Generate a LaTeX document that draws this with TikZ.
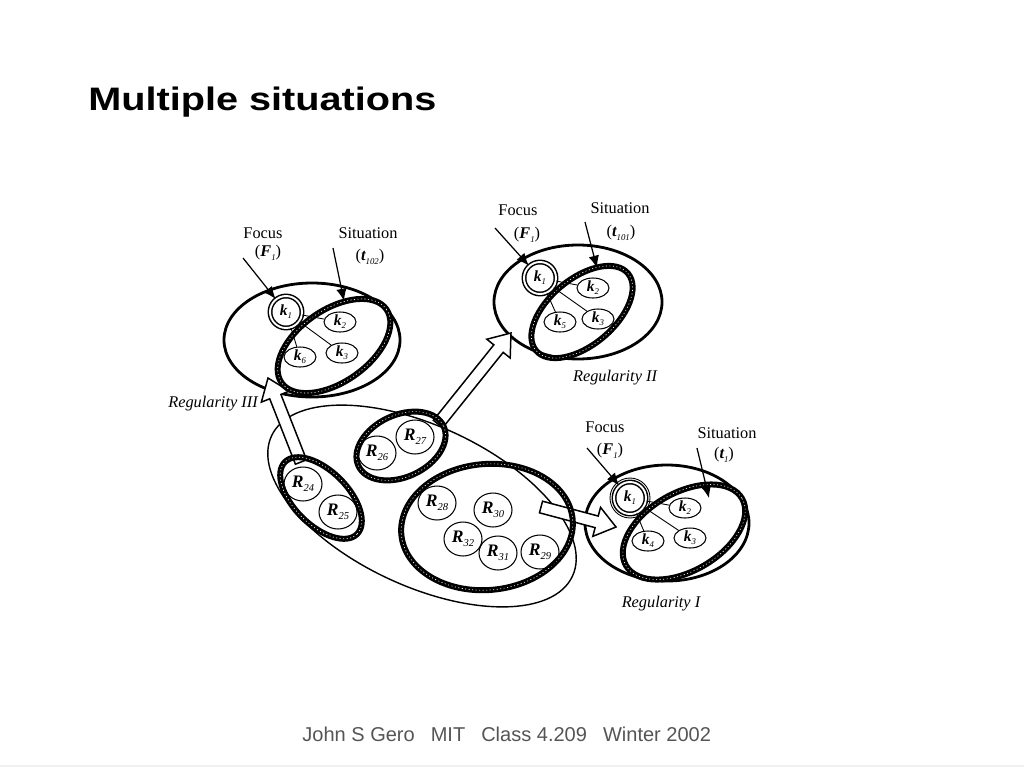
\documentclass[tikz,border=0pt]{standalone}
\usepackage{fontspec}
\setmainfont{Liberation Serif}
\newfontfamily\titlefont[FakeStretch=1.22]{Liberation Sans}
\newfontfamily\footfont{Liberation Sans}
\usetikzlibrary{arrows.meta, calc, shapes.geometric}

\definecolor{footgray}{RGB}{85,85,85}

\newcommand{\ksym}[2]{{\bfseries\itshape #1}\raisebox{-0.45ex}{\fontsize{5}{5}\selectfont\itshape #2}}
\newcommand{\rsym}[2]{{\bfseries\itshape #1}\raisebox{-0.45ex}{\fontsize{6}{6}\selectfont\itshape #2}}
% hollow block arrow from #1 to #2
\newcommand{\blockarrow}[2]{%
  \coordinate (ba) at ($(#2)!0.4cm!(#1)$);
  \draw[bigarrow] ($(#1)!0.12cm!90:(#2)$) -- ($(ba)!0.12cm!90:(#2)$) -- ($(ba)!0.3cm!90:(#2)$) -- (#2)
    -- ($(ba)!0.3cm!-90:(#2)$) -- ($(ba)!0.12cm!-90:(#2)$) -- ($(#1)!0.12cm!-90:(#2)$) -- cycle;}

\tikzset{
  lbl/.style={inner sep=0pt, font=\fontsize{9.3}{11}\selectfont},
  kbox/.style={ellipse, draw, line width=0.6pt, inner sep=0pt, minimum width=0.64cm, minimum height=0.4cm, font=\fontsize{8.8}{9}\selectfont},
  focusbox/.style={circle, draw, double, double distance=1.1pt, line width=0.85pt, inner sep=0pt, minimum size=0.64cm, font=\fontsize{8.8}{9}\selectfont},
  rbox/.style={ellipse, draw, line width=0.6pt, inner sep=0pt, minimum width=0.76cm, minimum height=0.68cm, font=\fontsize{10}{11}\selectfont},
  ring/.style={line width=1.6pt},
  thinring/.style={line width=0.8pt},
  band/.style={line width=3.4pt, postaction={draw, white, line width=0.35pt, dash pattern=on 0.6pt off 1.4pt}},
  pointer/.style={line width=0.7pt, -{Latex[length=7pt,width=6pt]}},
  link/.style={line width=0.5pt},
  bigarrow/.style={draw, line width=0.85pt, fill=white, line join=miter},
}

\begin{document}
\begin{tikzpicture}[x=0.02cm, y=-0.02cm]
\useasboundingbox (0,0) rectangle (1024,768);

\node[anchor=base west, inner sep=0pt, font=\titlefont\bfseries\fontsize{18.5}{20}\selectfont] (title) at (88,110) {Multiple situations};

% big regularity ellipse, bottom left
\draw[thinring, rotate around={-25:(422,506)}] (422,506) ellipse [x radius=166, y radius=80];

% outer ellipses of regularities I, II, III
\draw[ring] (312,340) ellipse [x radius=88, y radius=57]; %III
\draw[ring] (578,302) ellipse [x radius=84, y radius=57]; %II
\draw[ring] (667,523) ellipse [x radius=82, y radius=58]; %I

% block arrows
\coordinate (a3) at (301,462); \coordinate (b3) at (268,378);
\coordinate (a2) at (438,424); \coordinate (b2) at (511,333);
\coordinate (a1) at (541,507); \coordinate (b1) at (616,527);
\blockarrow{a3}{b3}
\blockarrow{a2}{b2}
\blockarrow{a1}{b1}

% groups of R
\draw[band, rotate around={-45:(321,498)}] (321,498) ellipse [x radius=51, y radius=27];
\draw[band, rotate around={25:(401,446)}] (401,446) ellipse [x radius=47, y radius=31];
\draw[band, rotate around={5:(487,527)}] (487,527) ellipse [x radius=86, y radius=63];

\node[rbox] (r24) at (303,484) {\rsym{R}{24}};
\node[rbox] (r25) at (338,512) {\rsym{R}{25}};
\node[rbox] (r26) at (377,453) {\rsym{R}{26}};
\node[rbox] (r27) at (415,437) {\rsym{R}{27}};
\node[rbox] (r28) at (437,503) {\rsym{R}{28}};
\node[rbox] (r30) at (493,510) {\rsym{R}{30}};
\node[rbox] (r32) at (463,539) {\rsym{R}{32}};
\node[rbox] (r31) at (498,553) {\rsym{R}{31}};
\node[rbox] (r29) at (540,552) {\rsym{R}{29}};

% situations
\draw[band, rotate around={35:(334,346)}] (334,346) ellipse [x radius=64, y radius=36]; %t102
\draw[band, rotate around={40:(582,312)}] (582,312) ellipse [x radius=60, y radius=33]; %t101
\draw[band, rotate around={30:(684,532)}] (684,532) ellipse [x radius=67, y radius=39]; %t1

% regularity III
\node[focusbox] (k13) at (286,312) {\ksym{k}{1}};
\node[kbox] (k23) at (340,322) {\ksym{k}{2}};
\node[kbox] (k33) at (342,353) {\ksym{k}{3}};
\node[kbox] (k63) at (300,357) {\ksym{k}{6}};
\draw[link] (k13) -- (k23); \draw[link] (k13) -- (k33); \draw[link] (k13) -- (k63);
\node[lbl] (focus3) at (263,233) {Focus};
\node[lbl] (fsym3) at (268,253) {(\ksym{F}{1})};
\node[lbl] (sit3) at (368,233) {Situation};
\node[lbl] (tsym3) at (370,257) {(\ksym{t}{102})};
\node[lbl, font=\fontsize{9.3}{11}\selectfont\itshape] (reg3) at (213,404) {Regularity III};
\coordinate (fp3) at (243,258); \coordinate (sp3) at (333,248); \coordinate (se3) at (344,301);
\draw[pointer] (fp3) -- (k13);
\draw[pointer] (sp3) -- (se3);

% regularity II
\node[focusbox] (k12) at (540,278) {\ksym{k}{1}};
\node[kbox] (k22) at (593,288) {\ksym{k}{2}};
\node[kbox] (k32) at (598,319) {\ksym{k}{3}};
\node[kbox] (k52) at (560,322) {\ksym{k}{5}};
\draw[link] (k12) -- (k22); \draw[link] (k12) -- (k32); \draw[link] (k12) -- (k52);
\node[lbl] (focus2) at (518,210) {Focus};
\node[lbl] (fsym2) at (527,235) {(\ksym{F}{1})};
\node[lbl] (sit2) at (620,208) {Situation};
\node[lbl] (tsym2) at (621,233) {(\ksym{t}{101})};
\node[lbl, font=\fontsize{9.3}{11}\selectfont\itshape] (reg2) at (615,378) {Regularity II};
\coordinate (fp2) at (495,228); \coordinate (sp2) at (585,222); \coordinate (se2) at (597,268);
\draw[pointer] (fp2) -- (k12);
\draw[pointer] (sp2) -- (se2);

% regularity I
\node[focusbox] (k11) at (630,498) {\ksym{k}{1}};
\draw[link] (k11) circle [radius=20];
\node[kbox] (k21) at (685,508) {\ksym{k}{2}};
\node[kbox] (k31) at (690,538) {\ksym{k}{3}};
\node[kbox] (k41) at (648,541) {\ksym{k}{4}};
\draw[link] (k11) -- (k21); \draw[link] (k11) -- (k31); \draw[link] (k11) -- (k41);
\node[lbl] (focus1) at (605,427) {Focus};
\node[lbl] (fsym1) at (610,451) {(\ksym{F}{1})};
\node[lbl] (sit1) at (727,433) {Situation};
\node[lbl] (tsym1) at (724,455) {(\ksym{t}{1})};
\node[lbl, font=\fontsize{9.3}{11}\selectfont\itshape] (reg1) at (661,604) {Regularity I};
\coordinate (fp1) at (587,448); \coordinate (sp1) at (697,448); \coordinate (se1) at (709,498);
\draw[pointer] (fp1) -- (k11);
\draw[pointer] (sp1) -- (se1);

\node[anchor=base west, inner sep=0pt, text=footgray, font=\footfont\fontsize{11.4}{13}\selectfont] (footer) at (302,741) {John S Gero\hspace{0.32cm}MIT\hspace{0.32cm}Class 4.209\hspace{0.32cm}Winter 2002};
\draw[gray!12, line width=0.8pt] (0,766) -- (1024,766);

\end{tikzpicture}
\end{document}
